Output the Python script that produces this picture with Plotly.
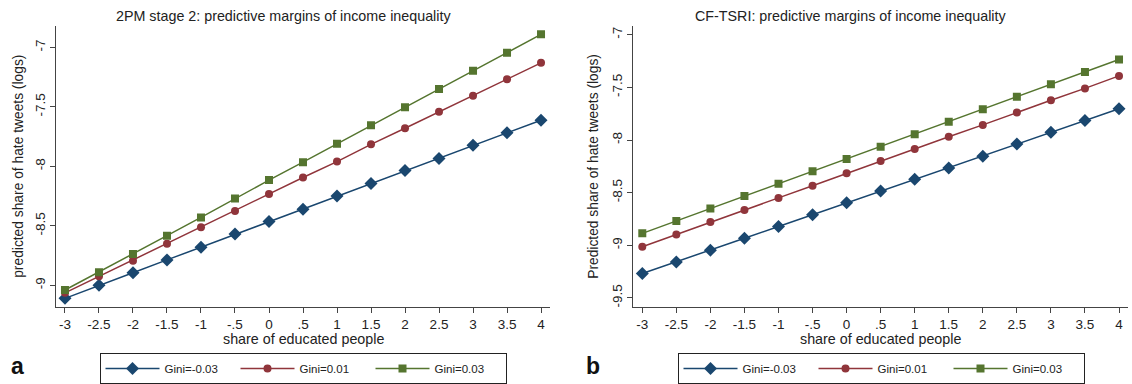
import plotly.graph_objects as go

# ---- data ----
x_vals = [-3, -2.5, -2, -1.5, -1, -0.5, 0, 0.5, 1, 1.5, 2, 2.5, 3, 3.5, 4]
x_ticktext = ["-3", "-2.5", "-2", "-1.5", "-1", "-.5", "0", ".5", "1", "1.5", "2", "2.5", "3", "3.5", "4"]
series_names = ["Gini=-0.03", "Gini=0.01", "Gini=0.03"]

a_gini_neg003 = [-9.11, -9.00, -8.895, -8.787, -8.68, -8.57, -8.465, -8.36, -8.249, -8.144, -8.036, -7.934, -7.823, -7.718, -7.612]
a_gini_001 = [-9.064, -8.925, -8.793, -8.651, -8.513, -8.375, -8.232, -8.094, -7.96, -7.815, -7.68, -7.541, -7.406, -7.268, -7.13]
a_gini_003 = [-9.04, -8.89, -8.737, -8.583, -8.43, -8.27, -8.116, -7.965, -7.81, -7.655, -7.503, -7.35, -7.197, -7.044, -6.89]

b_gini_neg003 = [-9.268, -9.159, -9.047, -8.934, -8.822, -8.71, -8.597, -8.485, -8.373, -8.266, -8.153, -8.037, -7.925, -7.815, -7.703]
b_gini_001 = [-9.015, -8.897, -8.78, -8.666, -8.55, -8.434, -8.316, -8.2, -8.084, -7.969, -7.856, -7.737, -7.622, -7.509, -7.39]
b_gini_003 = [-8.887, -8.769, -8.65, -8.531, -8.416, -8.297, -8.181, -8.063, -7.944, -7.825, -7.707, -7.588, -7.469, -7.353, -7.234]

a_yticks = [-9, -8.5, -8, -7.5, -7]
a_yticktext = ["-9", "-8.5", "-8", "-7.5", "-7"]
b_yticks = [-9.5, -9, -8.5, -8, -7.5, -7]
b_yticktext = ["-9.5", "-9", "-8.5", "-8", "-7.5", "-7"]

title_a = "2PM stage 2: predictive margins of income inequality"
title_b = "CF-TSRI: predictive margins of income inequality"
ytitle_a = "predicted share of hate tweets (logs)"
ytitle_b = "Predicted share of hate tweets (logs)"
xtitle = "share of educated people"

# ---- style ----
colors = ["#1a476f", "#90353b", "#55752f"]
symbols = ["diamond", "circle", "square"]
msizes = [10, 8, 8]
FONT = "Liberation Sans, Arial, Helvetica, sans-serif"
W, H = 1132, 384

fig = go.Figure()

panels = [
    ("x", "y", "legend", [a_gini_neg003, a_gini_001, a_gini_003]),
    ("x2", "y2", "legend2", [b_gini_neg003, b_gini_001, b_gini_003]),
]
for xa, ya, leg, data in panels:
    for i, ys in enumerate(data):
        fig.add_trace(go.Scatter(
            x=x_vals, y=ys, xaxis=xa, yaxis=ya, legend=leg,
            name=series_names[i], mode="lines+markers",
            line=dict(color=colors[i], width=1.5),
            marker=dict(symbol=symbols[i], size=msizes[i], color=colors[i]),
        ))

def px_x(p):
    return p / W

def px_y(p):
    return 1 - p / H

axis_common = dict(
    showline=True, linecolor="#444", linewidth=1,
    ticks="outside", ticklen=5, tickcolor="#444", tickwidth=1,
    showgrid=False, zeroline=False, automargin=False,
    tickfont=dict(family=FONT, size=13.5, color="#222"),
)

legend_common = dict(
    orientation="h", xanchor="center", y=px_y(358), yanchor="top",
    bordercolor="#222", borderwidth=1, font=dict(family=FONT, size=11.5, color="#222"),
    entrywidth=66, itemwidth=54, tracegroupgap=0,
)

ydom = [px_y(310.7), px_y(26.7)]
fig.update_layout(
    width=W, height=H,
    margin=dict(l=0, r=0, t=0, b=0),
    paper_bgcolor="white", plot_bgcolor="white",
    font=dict(family=FONT, color="#222"),
    xaxis=dict(domain=[px_x(56), px_x(550)], range=[-3.132, 4.132],
               tickvals=x_vals, ticktext=x_ticktext, anchor="y", **axis_common),
    yaxis=dict(domain=ydom, range=[-9.18, -6.823], tickvals=a_yticks,
               ticktext=a_yticktext, tickangle=-90, anchor="x", **axis_common),
    xaxis2=dict(domain=[px_x(633.3), px_x(1128)], range=[-3.132, 4.132],
                tickvals=x_vals, ticktext=x_ticktext, anchor="y2", **axis_common),
    yaxis2=dict(domain=ydom, range=[-9.584, -6.919], tickvals=b_yticks,
                ticktext=b_yticktext, tickangle=-90, anchor="x2", **axis_common),
    legend=dict(x=px_x(303), **legend_common),
    legend2=dict(x=px_x(881), **legend_common),
    showlegend=True,
)

def note(text, x, y, size=14.3, angle=0, color="#222"):
    return dict(text=text, x=px_x(x), y=px_y(y), xref="paper", yref="paper",
                xanchor="center", yanchor="middle", showarrow=False, textangle=angle,
                font=dict(family=FONT, size=size, color=color))

ann = [
    note(title_a, 283, 16),
    note(title_b, 851, 16),
    note(ytitle_a, 19, 169, size=13.8, angle=-90),
    note(ytitle_b, 594, 169, size=13.8, angle=-90),
    note(xtitle, 303, 343),
    note(xtitle, 880, 343),
    note("<b>a</b>", 17, 371, size=23, color="#111"),
    note("<b>b</b>", 593, 371, size=23, color="#111"),
]
fig.update_layout(annotations=ann)

fig.write_html("out.html", config={"displayModeBar": False},
               post_script="document.body.style.margin='0';document.body.style.overflow='hidden';")
